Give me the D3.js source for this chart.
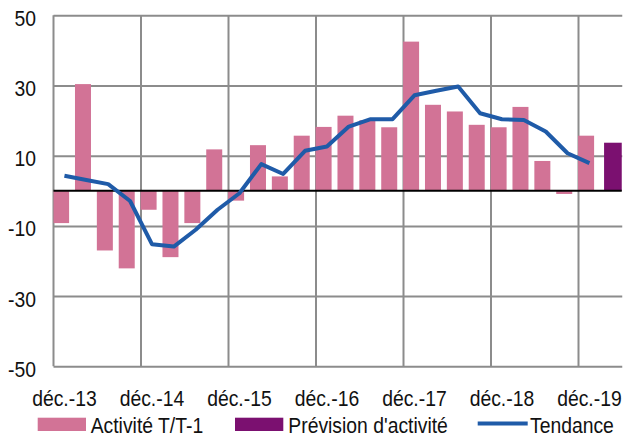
<!DOCTYPE html>
<html>
<head>
<meta charset="utf-8">
<script src="https://cdn.jsdelivr.net/npm/d3@7"></script>
<style>
  html, body { margin: 0; padding: 0; background: #fff; }
  svg { display: block; }
  text { font-family: "Liberation Sans", Arial, sans-serif; fill: #111; }
</style>
</head>
<body>
<svg id="chart" width="624" height="436"></svg>
<script>
// ---- data ----
const categories = ["déc.-13","mars-14","juin-14","sept.-14","déc.-14","mars-15","juin-15","sept.-15",
  "déc.-15","mars-16","juin-16","sept.-16","déc.-16","mars-17","juin-17","sept.-17",
  "déc.-17","mars-18","juin-18","sept.-18","déc.-18","mars-19","juin-19","sept.-19",
  "déc.-19","mars-20"];
const activite = [-9.2, 30.4, -17.0, -22.1, -5.4, -18.9, -9.2, 11.8, -2.8, 13.0, 4.1, 15.7,
  18.2, 21.4, 20.1, 18.1, 42.5, 24.5, 22.6, 18.8, 18.1, 23.9, 8.5, -0.9, 15.7, null];
const prevision = [null, null, null, null, null, null, null, null, null, null, null, null,
  null, null, null, null, null, null, null, null, null, null, null, null, null, 13.7];
const tendance = [4.3, 3.1, 1.9, -2.9, -15.2, -15.9, -11.1, -5.4, -0.7, 7.6, 4.8, 11.4,
  12.6, 18.3, 20.4, 20.4, 27.2, 28.5, 29.7, 22.1, 20.4, 20.2, 16.9, 10.7, 7.9, null];
const yTicks = [-50, -30, -10, 10, 30, 50];
const xLabels = ["déc.-13","déc.-14","déc.-15","déc.-16","déc.-17","déc.-18","déc.-19"];
const seriesNames = ["Activité T/T-1", "Prévision d'activité", "Tendance"];

// ---- layout / style ----
const L = 53.5, R = 622.25, T = 15.3, B = 366.3;
const FS = 21.5, SX = 0.9;
const cPink = "#D27396", cPurple = "#7B1070", cBlue = "#1F5BA8", cGrid = "#8C8C8C";

const svg = d3.select("#chart");
const x = d3.scaleBand().domain(categories).range([L, R]).paddingInner(0).paddingOuter(0);
const y = d3.scaleLinear().domain([-50, 50]).range([B, T]);

// horizontal gridlines + y labels
const yAxis = d3.axisLeft(y).tickValues(yTicks).tickSizeInner(-(R - L)).tickSizeOuter(0).tickPadding(17.5)
  .tickFormat(d => d);
const gy = svg.append("g").attr("transform", `translate(${L},0)`).call(yAxis);
gy.select(".domain").remove();
gy.selectAll(".tick line").attr("stroke", cGrid).attr("stroke-width", 2);
gy.selectAll(".tick text")
  .attr("font-size", FS).attr("fill", "#111")
  .attr("font-family", "Liberation Sans, Arial, sans-serif")
  .attr("dy", 10)
  .attr("x", -17.5 / SX)
  .attr("transform", `scale(${SX},1)`);

// vertical gridlines at group boundaries
const vCats = categories.filter((c, i) => i % 4 === 0);
svg.append("g").selectAll("line").data(vCats).join("line")
  .attr("x1", d => x(d)).attr("x2", d => x(d))
  .attr("y1", T).attr("y2", B)
  .attr("stroke", cGrid).attr("stroke-width", 2);

// clip for plot
svg.append("clipPath").attr("id", "plotclip").append("rect")
  .attr("x", L).attr("y", T - 2).attr("width", R - L - 0.5).attr("height", B - T + 4);

const plot = svg.append("g").attr("clip-path", "url(#plotclip)");
const barW = 16;

// activité bars
plot.append("g").selectAll("rect")
  .data(categories.map((c, i) => ({c, v: activite[i]})).filter(d => d.v != null))
  .join("rect")
  .attr("x", d => x(d.c) - 0.4)
  .attr("width", barW)
  .attr("y", d => y(Math.max(0, d.v)))
  .attr("height", d => Math.abs(y(d.v) - y(0)))
  .attr("fill", cPink);

// prévision bars
plot.append("g").selectAll("rect")
  .data(categories.map((c, i) => ({c, v: prevision[i]})).filter(d => d.v != null))
  .join("rect")
  .attr("x", d => x(d.c) + 3.7)
  .attr("width", barW + 2)
  .attr("y", d => y(Math.max(0, d.v)))
  .attr("height", d => Math.abs(y(d.v) - y(0)))
  .attr("fill", cPurple);

// zero line
svg.append("line").attr("x1", L).attr("x2", R - 0.5).attr("y1", y(0)).attr("y2", y(0))
  .attr("stroke", "#000").attr("stroke-width", 2);

// tendance line
const lineData = categories.map((c, i) => ({c, v: tendance[i]}));
const line = d3.line().defined(d => d.v != null)
  .x(d => x(d.c) + x.bandwidth() / 2).y(d => y(d.v));
svg.append("path").datum(lineData).attr("d", line)
  .attr("fill", "none").attr("stroke", cBlue).attr("stroke-width", 4)
  .attr("stroke-linejoin", "round");

// x axis labels
const xAxis = d3.axisBottom(x).tickValues(xLabels).tickSize(0).tickPadding(24);
const gx = svg.append("g").attr("transform", `translate(0,${B})`).call(xAxis);
gx.select(".domain").remove();
gx.selectAll(".tick text")
  .attr("font-size", FS).attr("fill", "#111")
  .attr("font-family", "Liberation Sans, Arial, sans-serif")
  .attr("text-anchor", "middle")
  .attr("transform", `scale(${SX},1)`)
  .each(function() {
    // scale only horizontally around tick origin (x=0), so nothing else to adjust
  });

// legend
const lg = svg.append("g");
const legendItems = [
  {name: seriesNames[0], type: "rect", color: cPink, sx: 37.7, tx: 90.7},
  {name: seriesNames[1], type: "rect", color: cPurple, sx: 235, tx: 288.3},
  {name: seriesNames[2], type: "line", color: cBlue, sx: 477.7, tx: 530}
];
legendItems.forEach(it => {
  if (it.type === "rect") {
    lg.append("rect").attr("x", it.sx).attr("y", 417.7).attr("width", 48.3).attr("height", 13.3)
      .attr("fill", it.color);
  } else {
    lg.append("line").attr("x1", it.sx).attr("x2", it.sx + 50).attr("y1", 423.5).attr("y2", 423.5)
      .attr("stroke", it.color).attr("stroke-width", 4);
  }
  lg.append("text").attr("x", it.tx / SX).attr("y", 433)
    .attr("transform", `scale(${SX},1)`)
    .attr("font-size", FS).text(it.name);
});
</script>
</body>
</html>
